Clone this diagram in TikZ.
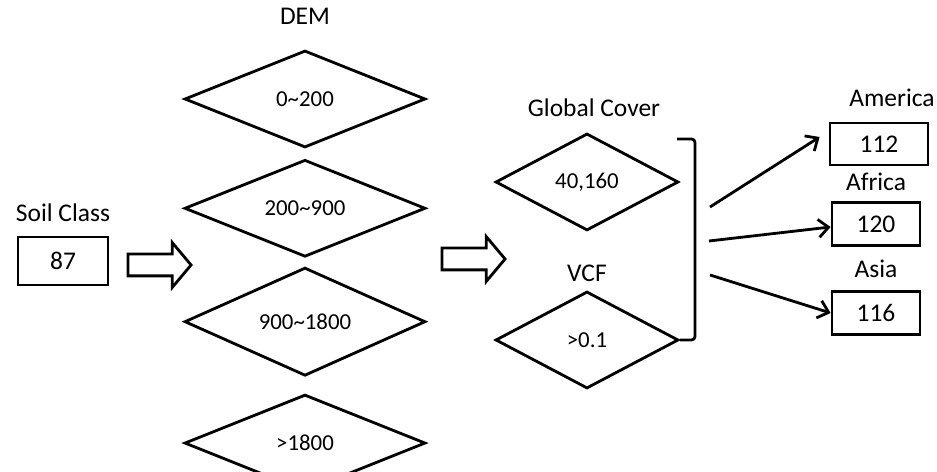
\documentclass[tikz,border=0pt]{standalone}
\usepackage{fontspec}
\setmainfont{Carlito}
\usetikzlibrary{positioning,arrows.meta,shapes.geometric,shapes.arrows}

\begin{document}
\begin{tikzpicture}[
    x=0.02cm, y=-0.02cm,
    node distance=0.2cm,
    dia/.style={
        diamond, draw, line width=1.6pt, inner sep=0pt,
        minimum width=4.82cm, minimum height=1.94cm,
        font=\fontsize{13}{15}\selectfont
    },
    smalldia/.style={dia, minimum width=3.66cm},
    box/.style={
        rectangle, draw, line width=1.6pt,
        minimum width=1.76cm, minimum height=0.86cm,
        font=\fontsize{14.5}{17}\selectfont
    },
    lbl/.style={inner sep=0pt, font=\fontsize{14.5}{17}\selectfont},
    hollow/.style={
        single arrow, draw, line width=1.6pt, inner xsep=0pt, inner ysep=0.19cm,
        single arrow head extend=0.23cm, single arrow tip angle=100,
        minimum height=1.26cm
    },
    arrow/.style={-{Straight Barb[length=0.2cm, width=0.36cm]}, line width=1.6pt},
    bracket/.style={line width=1.6pt, rounded corners=2pt}
]
\useasboundingbox (0,0) rectangle (937,472);

% soil class
\node[box, minimum width=1.8cm, minimum height=0.96cm] (soil) at (63,261) {87};
\node[lbl, above=0.28cm of soil]  (soillbl) {Soil Class};
\node[hollow] (go1) at (155,265) {};

% DEM classes
\node[dia] (d1) at (305,99) {0\textasciitilde200};
\node[dia, below=0.19cm of d1] (d2) {200\textasciitilde900};
\node[dia, below=0.16cm of d2] (d3) {900\textasciitilde1800};
\node[dia, below=0.32cm of d3] (d4) {>1800};
\node[lbl, above=0.48cm of d1]  (dem) {DEM};
\node[hollow] (go2) at (469,259) {};

% Global Cover and VCF
\node[smalldia] (gc)  at (587,182) {40,160};
\node[smalldia] (vcf) at (587,340) {>0.1};
\node[lbl, above=0.3cm of gc, xshift=0.14cm] (gclbl)  {Global Cover};
\node[lbl, above=0.16cm of vcf]              (vcflbl) {VCF};

\coordinate (brtop) at (677,139);
\draw[bracket] (brtop) -- ++(18,0) |- (vcf.east);

% continents
\node[box, minimum width=1.96cm, minimum height=0.84cm] (am) at (879,144) {112};
\node[box] (af) at (876,224) {120};
\node[box] (as) at (876,313) {116};
\node[lbl, above=0.3cm of am, xshift=0.26cm] (amlbl) {America};
\node[lbl, above=0.2cm of af]                (aflbl) {Africa};
\node[lbl, above=0.24cm of as]               (aslbl) {Asia};

\coordinate (f1) at (710,207);
\coordinate (f2) at (709,241);
\coordinate (f3) at (710,275);
\draw[arrow] (f1) -- ([xshift=-0.18cm, yshift=0.14cm]am.west);
\draw[arrow] (f2) -- ([yshift=-0.06cm]af.west);
\draw[arrow] (f3) -- (as.west);
\end{tikzpicture}
\end{document}
